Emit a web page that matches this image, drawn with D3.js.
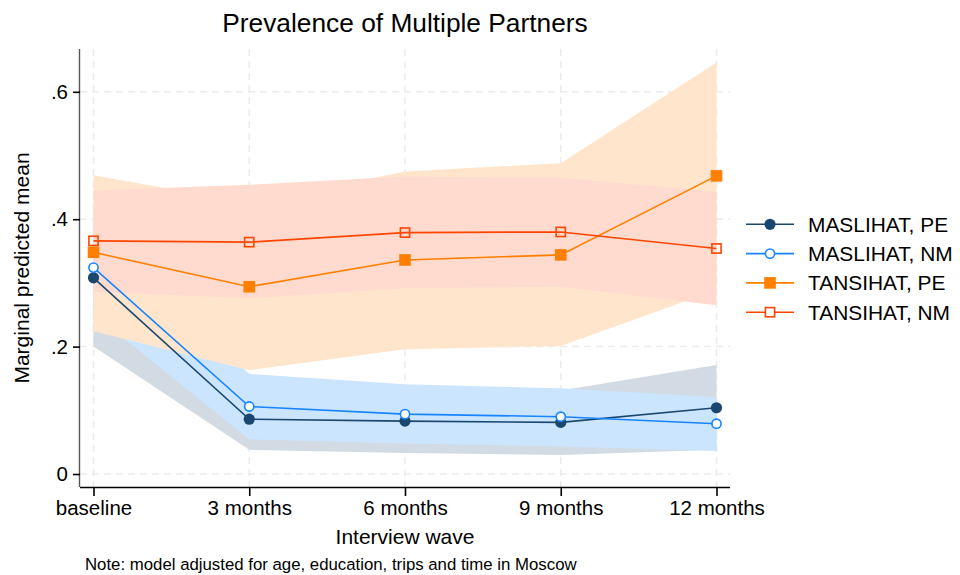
<!DOCTYPE html>
<html><head><meta charset="utf-8">
<script src="https://cdn.jsdelivr.net/npm/d3@7"></script>
<style>body{margin:0;background:#fff}svg{display:block;font-family:"Liberation Sans",Arial,Helvetica,sans-serif}</style>
</head><body><svg id="c" width="960" height="575"></svg>
<script>
const waves = ["baseline","3 months","6 months","9 months","12 months"];
const yTicks = [0, 0.2, 0.4, 0.6];
const yTickLabels = ["0", ".2", ".4", ".6"];
const seriesNames = ["MASLIHAT, PE","MASLIHAT, NM","TANSIHAT, PE","TANSIHAT, NM"];

const maslihatPE    = [0.308, 0.086, 0.083, 0.081, 0.104];
const maslihatPE_lo = [0.200, 0.038, 0.033, 0.030, 0.038];
const maslihatPE_hi = [0.416, 0.135, 0.133, 0.131, 0.171];

const maslihatNM    = [0.324, 0.106, 0.094, 0.090, 0.079];
const maslihatNM_lo = [0.251, 0.0545, 0.048, 0.043, 0.036];
const maslihatNM_hi = [0.397, 0.157, 0.141, 0.1345, 0.121];

const tansihatPE    = [0.348, 0.294, 0.336, 0.344, 0.468];
const tansihatPE_lo = [0.224, 0.163, 0.196, 0.201, 0.289];
const tansihatPE_hi = [0.469, 0.425, 0.475, 0.488, 0.646];

const tansihatNM    = [0.366, 0.364, 0.379, 0.380, 0.354];
const tansihatNM_lo = [0.286, 0.276, 0.2915, 0.294, 0.265];
const tansihatNM_hi = [0.445, 0.454, 0.467, 0.465, 0.443];

const series = [
  {name: seriesNames[0], v: maslihatPE, lo: maslihatPE_lo, hi: maslihatPE_hi, color:"#1a476f", band:"#d2dae3", marker:"circle", filled:true},
  {name: seriesNames[1], v: maslihatNM, lo: maslihatNM_lo, hi: maslihatNM_hi, color:"#1684ff", band:"#cce5ff", marker:"circle", filled:false},
  {name: seriesNames[2], v: tansihatPE, lo: tansihatPE_lo, hi: tansihatPE_hi, color:"#ff7f00", band:"#ffe5cc", marker:"square", filled:true},
  {name: seriesNames[3], v: tansihatNM, lo: tansihatNM_lo, hi: tansihatNM_hi, color:"#ff4500", band:"#ffdbcf", marker:"square", filled:false}
];

const svg = d3.select("#c");
const L = 80, R = 730, T = 49, B = 487;
const x = d3.scalePoint().domain(waves).range([L, R]).padding(0.0867);
const y = d3.scaleLinear().domain([-0.0204, 0.6672]).range([B, T]);

// gridlines
const grid = svg.append("g");
grid.selectAll("line.h").data(yTicks).join("line")
  .attr("x1", L).attr("x2", R).attr("y1", d=>y(d)).attr("y2", d=>y(d))
  .attr("stroke","#ebebeb").attr("stroke-width",1.5).attr("stroke-dasharray","7,5");
grid.selectAll("line.v").data(waves).join("line")
  .attr("x1", d=>x(d)).attr("x2", d=>x(d)).attr("y1", T).attr("y2", B)
  .attr("stroke","#ebebeb").attr("stroke-width",1.5).attr("stroke-dasharray","7,5");

// bands
const area = d3.area().x((d,i)=>x(waves[i])).y0(d=>y(d[0])).y1(d=>y(d[1]));
series.forEach(s=>{
  const pts = s.lo.map((l,i)=>[l, s.hi[i]]);
  svg.append("path").datum(pts).attr("d", area).attr("fill", s.band);
});

// lines + markers
const line = d3.line().x((d,i)=>x(waves[i])).y(d=>y(d));
function drawMarker(g, s, cx, cy, legend) {
  if (s.marker === "circle") {
    if (s.filled) g.append("circle").attr("cx",cx).attr("cy",cy).attr("r",5.6).attr("fill",s.color);
    else g.append("circle").attr("cx",cx).attr("cy",cy).attr("r",4.6).attr("fill","#fff").attr("stroke",s.color).attr("stroke-width",1.6);
  } else {
    if (s.filled) g.append("rect").attr("x",cx-5.8).attr("y",cy-5.8).attr("width",11.6).attr("height",11.6).attr("fill",s.color);
    else g.append("rect").attr("x",cx-4.6).attr("y",cy-4.6).attr("width",9.2).attr("height",9.2).attr("fill", legend ? "#fff" : "none").attr("stroke",s.color).attr("stroke-width",1.6);
  }
}
series.forEach(s=>{
  svg.append("path").datum(s.v).attr("d", line).attr("fill","none").attr("stroke", s.color).attr("stroke-width",1.6);
  const g = svg.append("g");
  s.v.forEach((v,i)=>drawMarker(g, s, x(waves[i]), y(v), false));
});

// axes
const yAxis = d3.axisLeft(y).tickValues(yTicks).tickFormat((d,i)=>yTickLabels[i]).tickSize(7).tickPadding(5);
const ya = svg.append("g").attr("transform",`translate(${L},0)`).call(yAxis);
ya.select(".domain").attr("d", `M-0.5,${T}V${B}`).attr("stroke","#555").attr("stroke-width",1.4);
ya.selectAll(".tick line").attr("stroke","#000").attr("stroke-width",1.6);
ya.selectAll(".tick text").attr("font-size",20.5).attr("fill","#000").attr("font-family","Liberation Sans, Arial, sans-serif");

const xAxis = d3.axisBottom(x).tickSize(9).tickPadding(4);
const xa = svg.append("g").attr("transform",`translate(0,${B})`).call(xAxis);
xa.select(".domain").attr("d", `M${L},0.5H${R}`).attr("stroke","#000").attr("stroke-width",1.4);
xa.selectAll(".tick line").attr("stroke","#000").attr("stroke-width",1.6);
xa.selectAll(".tick text").attr("font-size",20.5).attr("fill","#000").attr("font-family","Liberation Sans, Arial, sans-serif");

// titles
svg.append("text").attr("x",405).attr("y",32).attr("text-anchor","middle").attr("font-size",26.3).text("Prevalence of Multiple Partners");
svg.append("text").attr("x",405).attr("y",544).attr("text-anchor","middle").attr("font-size",21).text("Interview wave");
svg.append("text").attr("transform","translate(29,268) rotate(-90)").attr("text-anchor","middle").attr("font-size",21).text("Marginal predicted mean");
svg.append("text").attr("x",85).attr("y",570).attr("font-size",16.8).text("Note: model adjusted for age, education, trips and time in Moscow");

// legend
const lg = svg.append("g");
series.forEach((s,i)=>{
  const yy = 224.3 + i*29.3;
  lg.append("line").attr("x1",746).attr("x2",794).attr("y1",yy).attr("y2",yy).attr("stroke",s.color).attr("stroke-width",1.6);
  drawMarker(lg, s, 770, yy, true);
  lg.append("text").attr("x",808).attr("y",yy+7.4).attr("font-size",20.9).text(s.name);
});
</script></body></html>
